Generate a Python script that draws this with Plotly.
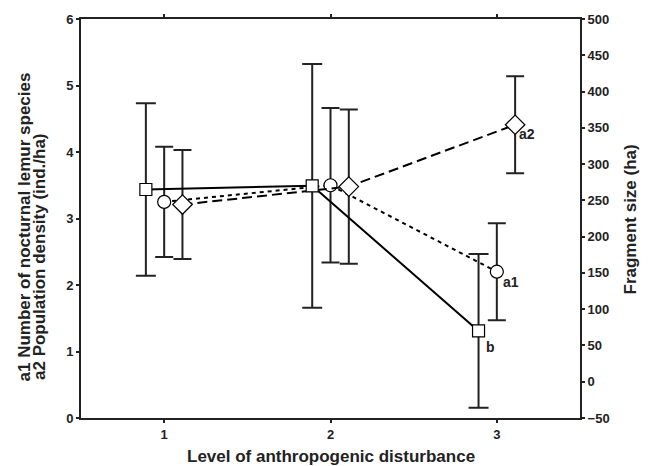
import plotly.graph_objects as go

# Data
levels = [1, 2, 3]
frag_mean = [265, 270, 70]          # b: fragment size (ha), right axis
frag_err = [119, 168, 106]
species_mean = [3.25, 3.50, 2.20]   # a1: number of nocturnal lemur species
species_err = [0.83, 1.16, 0.73]
density_mean = [3.21, 3.48, 4.41]   # a2: population density (ind./ha)
density_err = [0.82, 1.16, 0.73]
offset = 0.11

x_title = "Level of anthropogenic disturbance"
y_title_lines = ["a1 Number of nocturnal lemur species", "a2 Population density (ind./ha)"]
y2_title = "Fragment size (ha)"

FONT = "Liberation Sans, Arial, sans-serif"
INK = "#222"

W, H = 649, 466
ML, MR, MT, MB = 81, 69, 19, 48
PW, PH = W - ML - MR, H - MT - MB

fig = go.Figure()

fig.add_trace(go.Scatter(
    x=[v - offset for v in levels], y=frag_mean, yaxis="y2",
    mode="lines+markers",
    line=dict(color="black", width=2),
    marker=dict(symbol="square", size=12, color="white", line=dict(color="black", width=1.2)),
    error_y=dict(type="data", array=frag_err, visible=True, color=INK, thickness=2, width=10),
    showlegend=False,
))
fig.add_trace(go.Scatter(
    x=levels, y=species_mean,
    mode="lines+markers",
    line=dict(color="black", width=2, dash="4px,4px"),
    marker=dict(symbol="circle", size=13, color="white", line=dict(color="black", width=1.2)),
    error_y=dict(type="data", array=species_err, visible=True, color=INK, thickness=2, width=9),
    showlegend=False,
))
fig.add_trace(go.Scatter(
    x=[v + offset for v in levels], y=density_mean,
    mode="lines+markers",
    line=dict(color="black", width=2, dash="10px,5px"),
    marker=dict(symbol="diamond", size=15, color="white", line=dict(color="black", width=1.2)),
    error_y=dict(type="data", array=density_err, visible=True, color=INK, thickness=2, width=9),
    showlegend=False,
))

annots = [
    dict(x=levels[2] - offset, y=frag_mean[2], yref="y2", text="b", xshift=5, yshift=-16),
    dict(x=levels[2], y=species_mean[2], yref="y", text="a1", xshift=4, yshift=-10),
    dict(x=levels[2] + offset, y=density_mean[2], yref="y", text="a2", xshift=2, yshift=-9),
]
for a in annots:
    fig.add_annotation(x=a["x"], y=a["y"], xref="x", yref=a["yref"], text=a["text"],
                       showarrow=False, xanchor="left", yanchor="middle",
                       xshift=a["xshift"], yshift=a["yshift"],
                       font=dict(family=FONT, size=14, color=INK, weight="bold"))

title_font = dict(family=FONT, size=17, color=INK, weight="bold")
# x-axis title
fig.add_annotation(xref="paper", yref="paper", x=(331 - ML) / PW, y=0, yshift=-(456.5 - (MT + PH)),
                   text=x_title, showarrow=False, xanchor="center", yanchor="middle",
                   font=title_font)
# left titles (two lines, tight spacing)
for cx, cy, txt in [(24, 227.5, y_title_lines[0]), (39.5, 256.5, y_title_lines[1])]:
    fig.add_annotation(xref="paper", yref="paper", x=0, xshift=cx - ML, y=(MT + PH - cy) / PH,
                       text=txt, textangle=-90, showarrow=False, xanchor="center", yanchor="middle",
                       font=title_font)
# right title
fig.add_annotation(xref="paper", yref="paper", x=1, xshift=630 - (ML + PW), y=(MT + PH - 219.5) / PH,
                   text=y2_title, textangle=-90, showarrow=False, xanchor="center", yanchor="middle",
                   font=title_font)

axis_common = dict(showline=True, linecolor=INK, linewidth=2, ticks="outside", automargin=False,
                   ticklen=3, tickwidth=2, tickcolor=INK, showgrid=False, zeroline=False,
                   tickfont=dict(family=FONT, size=13, color=INK, weight="bold"))

fig.update_layout(
    width=W, height=H,
    margin=dict(l=ML, r=MR, t=MT, b=MB),
    paper_bgcolor="white", plot_bgcolor="white",
    xaxis=dict(range=[0.5, 3.5], tickvals=[1, 2, 3], mirror="ticks", **axis_common),
    yaxis=dict(range=[0, 6], tickvals=[0, 1, 2, 3, 4, 5, 6], **axis_common),
    yaxis2=dict(range=[-50, 500], tickvals=list(range(-50, 501, 50)), overlaying="y", side="right",
                **axis_common),
)

fig.write_html("out.html", config={"displayModeBar": False},
               post_script="document.body.style.margin='0px';")
